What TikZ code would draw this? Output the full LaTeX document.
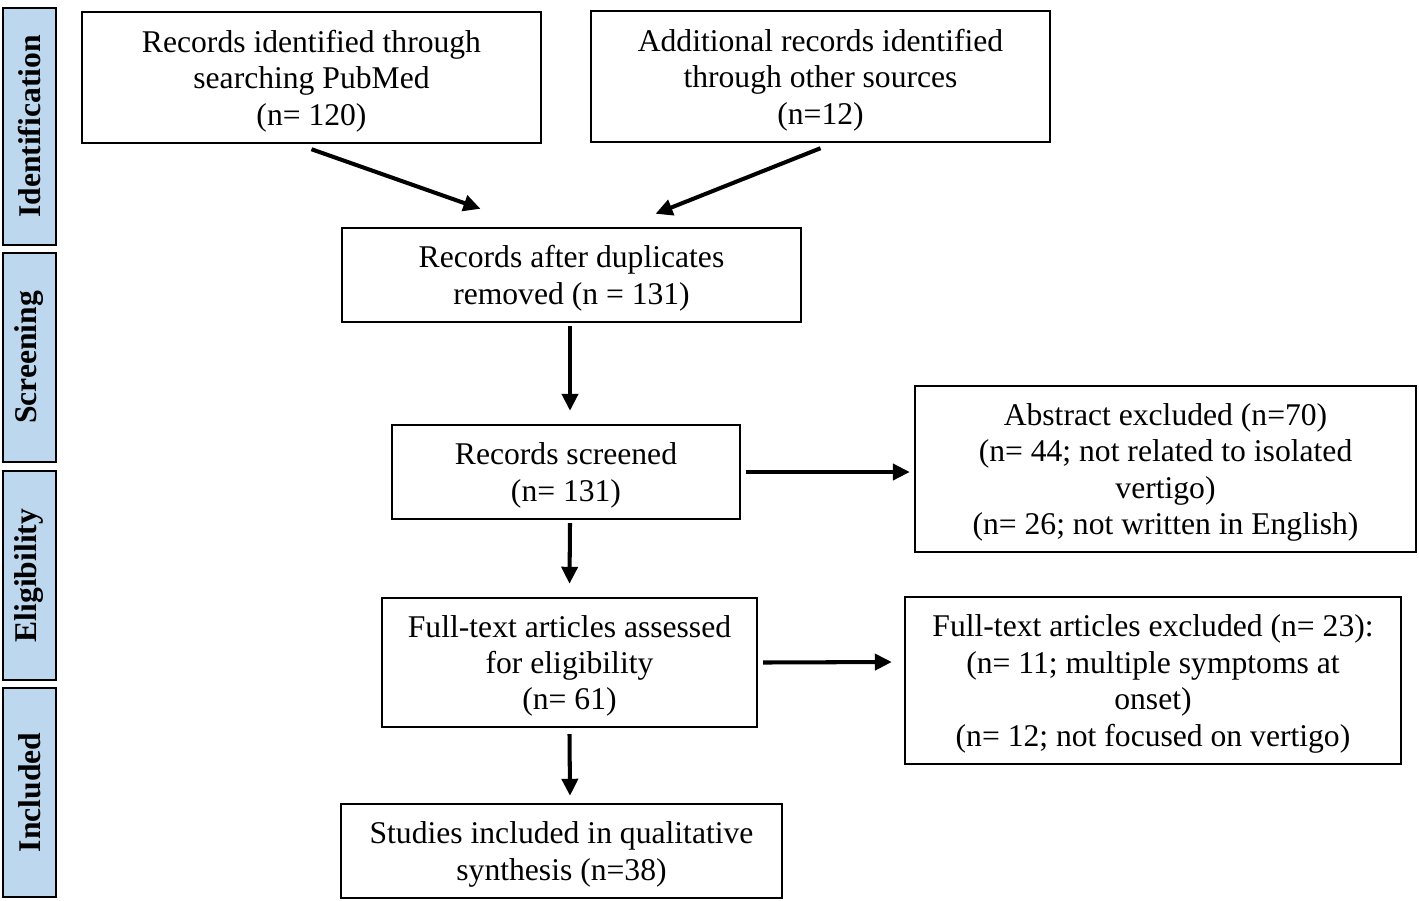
\documentclass[tikz,border=0pt]{standalone}
\usepackage{fontspec}
\setmainfont{Liberation Serif}
\usetikzlibrary{arrows.meta,calc}
\definecolor{sidebl}{HTML}{BDD7EE}
\begin{document}
\begin{tikzpicture}[x=0.02cm,y=-0.02cm,
  box/.style={draw, line width=1.4pt, align=center, inner sep=0pt, font=\fontsize{18}{20.7}\selectfont, text depth=-1.2pt},
  side/.style={draw, line width=1.6pt, fill=sidebl, rotate=90, inner sep=0pt, minimum height=1.06cm, font=\fontsize{18}{20.7}\selectfont\bfseries},
  arr/.style={line width=2.3pt, -{Triangle[length=0.34cm,width=0.32cm]}}]
\useasboundingbox (0,0) rectangle (1419,900);

\node[side, minimum width=4.74cm] (s1) at (29.5,126.5) {Identification};
\node[side, minimum width=4.18cm] (s2) at (29.5,357.5) {Screening};
\node[side, minimum width=4.18cm] (s3) at (29.5,575.5) {Eligibility};
\node[side, minimum width=4.18cm] (s4) at (29.5,792.5) {Included};

\node[box, minimum width=9.18cm, minimum height=2.62cm] (b1) at (311.5,77.5) {Records identified through\\searching PubMed\\(n= 120)};
\node[box, minimum width=9.18cm, minimum height=2.62cm] (b2) at (820.5,76.5) {Additional records identified\\through other sources\\(n=12)};
\node[box, minimum width=9.18cm, minimum height=1.88cm] (b3) at (571.5,275) {Records after duplicates\\removed (n = 131)};
\node[box, minimum width=6.96cm, minimum height=1.88cm] (b4) at (566,472) {Records screened\\(n= 131)};
\node[box, minimum width=10.02cm, minimum height=3.32cm] (b5) at (1165.5,469) {Abstract excluded (n=70)\\(n= 44; not related to isolated\\vertigo)\\(n= 26; not written in English)};
\node[box, minimum width=7.5cm, minimum height=2.58cm] (b6) at (569.5,662.5) {Full-text articles assessed\\for eligibility\\(n= 61)};
\node[box, minimum width=9.92cm, minimum height=3.34cm] (b7) at (1153,680.5) {Full-text articles excluded (n= 23):\\(n= 11; multiple symptoms at\\onset)\\(n= 12; not focused on vertigo)};
\node[box, minimum width=8.82cm, minimum height=1.88cm] (b8) at (561.5,851) {Studies included in qualitative\\synthesis (n=38)};

\draw[arr] ($(b1.south)+(0,5)$) -- ($(b3.north)+(-91,-18)$);
\draw[arr] ($(b2.south)+(0,5)$) -- ($(b3.north)+(84,-13)$);
\draw[arr] ($(b3.south)+(-1.5,3)$) -- ($(b4.north)+(4,-13)$);
\draw[arr] ($(b4.east)+(5,0)$) -- ($(b5.west)+(-4,3)$);
\draw[arr] ($(b4.south)+(4,3)$) -- ($(b6.north)+(0,-13)$);
\draw[arr] ($(b6.east)+(5,0)$) -- ($(b7.west)+(-12,-18.5)$);
\draw[arr] ($(b6.south)+(0,6)$) -- ($(b8.north)+(8.5,-7)$);
\end{tikzpicture}
\end{document}
